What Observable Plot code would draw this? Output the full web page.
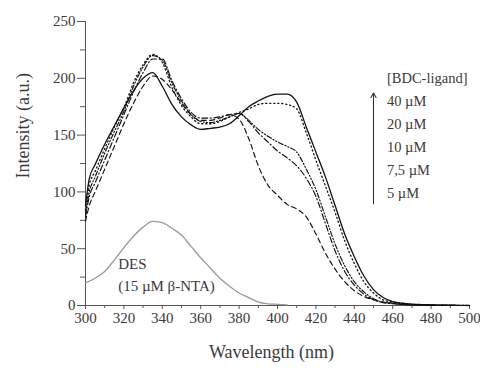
<!DOCTYPE html>
<html>
<head>
<meta charset="utf-8">
<script src="https://cdn.jsdelivr.net/npm/d3@7"></script>
<script src="https://cdn.jsdelivr.net/npm/@observablehq/plot@0.6"></script>
<style>
  html, body { margin: 0; padding: 0; background: #fff; }
</style>
</head>
<body>
<div id="chart"></div>
<script>
// Wavelength grid (nm) shared by the BDC-ligand spectra
const wl = [300,302,305,310,315,320,325,330,335,340,345,350,355,360,365,370,375,380,385,390,395,400,405,410,415,420,425,430,435,440,445,450,455,460,465,470,475,480,485,490,495,500];
// Intensities (a.u.) for each BDC-ligand concentration
const s40 = [88,112,124,142,158,174,189,200,205,193,177,166,159,155,156,157,160,167,175,180,184,186,186,179,157,135,113,88,63,43,26,14,7,3.5,2,1.2,0.8,0.5,0.3,0.2,0.1,0];
const s20 = [84,106,118,138,157,174,196,212,221,214,192,176,166,160,160,162,166,170,173,177,178,178,177,173,152,128,105,82,57,37,21,11,5,3,2,1,0.6,0.4,0.3,0.2,0.1,0];
const s10 = [80,100,113,134,153,171,193,210,220,216,196,180,168,162,161,163,166,169,163,155,149,144,140,135,120,102,78,54,35,21,12,6,3,2,1,0.6,0.4,0.3,0.2,0.1,0,0];
const s75 = [78,96,108,128,148,168,188,205,217,217,198,182,170,165,165,166,168,169,162,152,144,136,130,123,112,96,72,48,30,18,10,5,2.5,1.5,1,0.6,0.4,0.3,0.2,0.1,0,0];
const s5  = [74,88,100,120,140,160,178,193,202,199,190,178,168,163,163,165,168,164,147,123,106,97,89,85,78,63,46,32,21,13,8,5,3,2,1,0.6,0.4,0.3,0.2,0.1,0,0];
// DES reference spectrum (15 µM β-NTA)
const desWl = [300,305,310,315,320,325,330,335,340,345,350,355,360,365,370,375,380,385,390,395,400,405];
const des   = [20,24,30,40,51,61,69,74,73,68,62,52,42,33,24,17,11,7,3,1.5,1,0.5];

const seriesLabels = ["40 µM","20 µM","10 µM","7,5 µM","5 µM"];
const legendTitle = ["[BDC-ligand]"];
const desLabel = ["DES","(15 µM β-NTA)"];

const xTicks = [300,320,340,360,380,400,420,440,460,480,500];
const xMinor = [310,330,350,370,390,410,430,450,470,490];
const yTicks = [0,50,100,150,200,250];
const yMinor = [25,75,125,175,225];

const series = [s40, s20, s10, s75, s5];
const dashes = [null, "1.2,2.8", "5,2,1.2,2,1.2,2", "6,2.5,1.2,2.5", "5,3.5"];
const widths = [1.3, 1.3, 1.15, 1.15, 1.15];

const FONT = "'Liberation Serif', 'Times New Roman', serif";
const TXT = "#3a3a3a";

const lineMarks = series.map((s, k) => Plot.line(s, {
  x: wl, y: Plot.identity, curve: "monotone-x",
  stroke: "#111", strokeWidth: widths[k],
  strokeDasharray: dashes[k] ?? undefined
}));

const chart = Plot.plot({
  width: 480,
  height: 368,
  marginLeft: 85,
  marginRight: 11,
  marginTop: 21,
  marginBottom: 63,
  style: { fontFamily: FONT, color: TXT, background: "#fff", overflow: "visible" },
  x: { domain: [300, 500] },
  y: { domain: [0, 250] },
  marks: [
    Plot.ruleX([300], { stroke: "#555", strokeWidth: 1 }),
    Plot.ruleY([0], { stroke: "#555", strokeWidth: 1 }),
    Plot.axisY({ ticks: yTicks, tickSize: 8, tickPadding: 2, fontSize: 15, label: null, stroke: "#555", fill: TXT }),
    Plot.axisY({ ticks: yMinor, tickSize: 5, text: null, label: null, stroke: "#555" }),
    Plot.axisX({ ticks: xTicks, tickSize: 4, tickPadding: 3, fontSize: 15, label: null, stroke: "#555", fill: TXT }),
    Plot.axisX({ ticks: xMinor, tickSize: 3, text: null, label: null, stroke: "#555" }),
    Plot.line(des, { x: desWl, y: Plot.identity, curve: "monotone-x", stroke: "#9a9a9a", strokeWidth: 1.3 }),
    ...lineMarks,
    Plot.text(desLabel, { x: () => 317, y: (d, i) => 36 - 19 * i, text: Plot.identity, textAnchor: "start", fontSize: 15, fill: TXT, fontFamily: FONT }),
    Plot.text(legendTitle, { x: () => 457, y: () => 200, text: Plot.identity, textAnchor: "start", fontSize: 14.5, fill: TXT, fontFamily: FONT }),
    Plot.text(seriesLabels, { x: () => 457, y: (d, i) => 180 - 20.3 * i, text: Plot.identity, textAnchor: "start", fontSize: 14.5, fill: TXT, fontFamily: FONT }),
    Plot.arrow([0], { x1: () => 450, x2: () => 450, y1: () => 89.6, y2: () => 187, stroke: "#333", strokeWidth: 1.1, headLength: 7 }),
    Plot.text(["Wavelength (nm)"], { frameAnchor: "bottom", dx: -6, dy: 52, text: Plot.identity, fontSize: 18, fill: TXT, fontFamily: FONT }),
    Plot.text(["Intensity (a.u.)"], { frameAnchor: "left", dx: -62, dy: 15, rotate: -90, text: Plot.identity, fontSize: 18, fill: TXT, fontFamily: FONT })
  ]
});
document.getElementById("chart").appendChild(chart);
</script>
</body>
</html>
